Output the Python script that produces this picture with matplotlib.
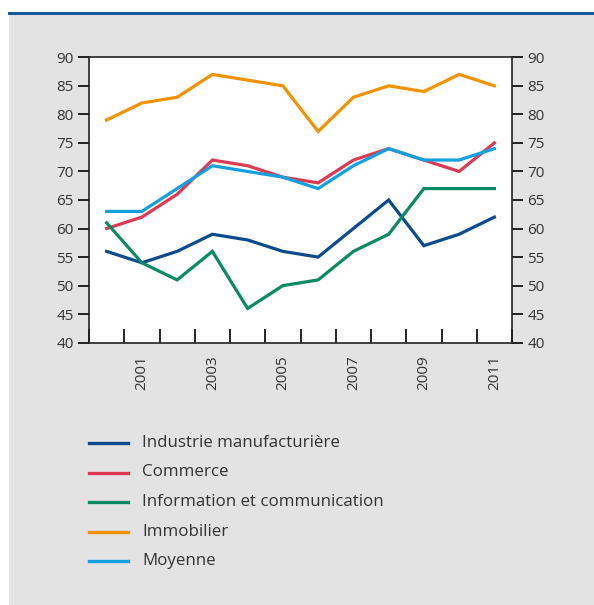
import matplotlib
matplotlib.use("Agg")
import matplotlib.pyplot as plt
from matplotlib.patches import Rectangle
from matplotlib.lines import Line2D
import numpy as np

years = [2000, 2001, 2002, 2003, 2004, 2005, 2006, 2007, 2008, 2009, 2010, 2011]
industrie = [56, 54, 56, 59, 58, 56, 55, 60, 65, 57, 59, 62]
commerce = [60, 62, 66, 72, 71, 69, 68, 72, 74, 72, 70, 75]
information = [61, 54, 51, 56, 46, 50, 51, 56, 59, 67, 67, 67]
immobilier = [79, 82, 83, 87, 86, 85, 77, 83, 85, 84, 87, 85]
moyenne = [63, 63, 67, 71, 70, 69, 67, 71, 74, 72, 72, 74]

labels = ["Industrie manufacturière", "Commerce", "Information et communication",
          "Immobilier", "Moyenne"]
colors = ["#0b4a8c", "#dc3a52", "#0a8a62", "#f39200", "#12a0e0"]
y_ticks = [40, 45, 50, 55, 60, 65, 70, 75, 80, 85, 90]
x_labels = ["2001", "2003", "2005", "2007", "2009", "2011"]

plt.rcParams['font.family'] = ['Open Sans', 'DejaVu Sans']
W, H = 594, 605
fig = plt.figure(figsize=(W / 100, H / 100), dpi=100)
fig.patch.set_facecolor("white")

# gray background panel and top blue rule
fig.add_artist(Rectangle((9 / W, 0), 1 - 9 / W, 1 - 12 / H, transform=fig.transFigure,
                         facecolor="#e3e3e3", edgecolor="none", zorder=-10))
fig.add_artist(Line2D([9 / W, 1], [1 - 12.5 / H, 1 - 12.5 / H], transform=fig.transFigure,
                      color="#1a5a9c", lw=2.2, zorder=-5))

left, right = 89 / W, 512 / W
bottom, top = 1 - 342.7 / H, 1 - 57.3 / H
ax = fig.add_axes([left, bottom, right - left, top - bottom])
ax.set_facecolor("white")

x = np.arange(len(years))
series = [industrie, commerce, information, immobilier, moyenne]
for s, c, lab in zip(series, colors, labels):
    ax.plot(x, s, color=c, lw=2.3, label=lab, solid_joinstyle="miter")

ax.set_xlim(-0.5, len(years) - 0.5)
ax.set_ylim(40, 90)
ax.set_yticks(y_ticks)
ax.tick_params(axis="y", which="both", direction="out", length=8, width=1.2,
               labelsize=11, labelcolor="#333333", left=True, right=True,
               labelleft=True, labelright=True, pad=3)

# x ticks at category boundaries (inward), labels at odd years
ax.set_xticks(np.arange(-0.5, len(years) - 0.4, 1.0))
ax.set_xticklabels([])
ax.tick_params(axis="x", which="major", direction="in", length=10, width=1.2, bottom=True)
ax.set_xticks([years.index(int(y)) for y in x_labels], minor=True)
ax.set_xticklabels(x_labels, minor=True, rotation=90)
ax.tick_params(axis="x", which="minor", length=0, labelsize=11, labelcolor="#333333", pad=9)

for sp in ax.spines.values():
    sp.set_linewidth(1.2)
    sp.set_color("#222222")

# legend drawn manually in figure pixel coordinates
ys = [443, 472.5, 502, 531.5, 561]
for yy, c, lab in zip(ys, colors, labels):
    fig.add_artist(Line2D([89 / W, 128 / W], [1 - yy / H, 1 - yy / H],
                          transform=fig.transFigure, color=c, lw=2.4))
    fig.text(142 / W, 1 - yy / H, lab, fontsize=12.2, color="#333333",
             va="center", ha="left")

fig.savefig("out.png", dpi=100, facecolor=fig.get_facecolor())
